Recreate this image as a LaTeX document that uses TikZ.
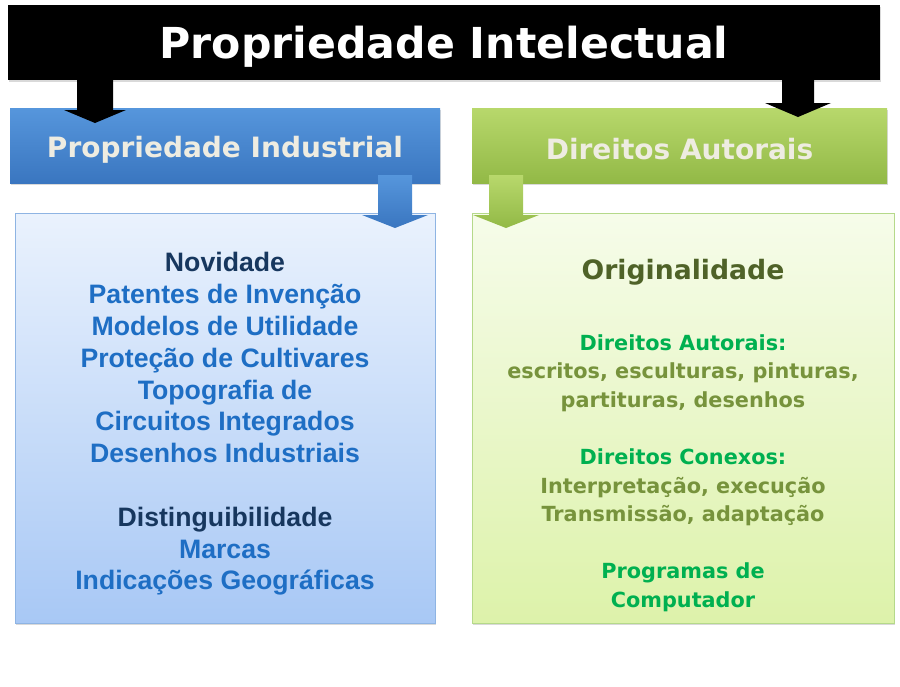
\documentclass[tikz,border=0pt]{standalone}
\usepackage{fontspec}
\setmainfont{DejaVu Sans}
\newfontfamily\arialfont{Liberation Sans}
\usetikzlibrary{positioning,shadows,calc}
\definecolor{barblue}{RGB}{86,150,220}
\definecolor{barbluedark}{RGB}{58,118,192}
\definecolor{bargreen}{RGB}{184,216,108}
\definecolor{bargreendark}{RGB}{146,185,70}
\definecolor{boxbluetop}{RGB}{234,242,253}
\definecolor{boxbluebot}{RGB}{168,200,245}
\definecolor{boxblueline}{RGB}{142,180,227}
\definecolor{boxgreentop}{RGB}{246,252,234}
\definecolor{boxgreenbot}{RGB}{221,242,170}
\definecolor{boxgreenline}{RGB}{181,217,138}
\definecolor{cream}{RGB}{238,236,225}
\definecolor{navytext}{RGB}{23,55,94}
\definecolor{bluetext}{RGB}{30,110,196}
\definecolor{olivetext}{RGB}{79,98,40}
\definecolor{leaftext}{RGB}{0,176,80}
\definecolor{mosstext}{RGB}{119,147,60}

\begin{document}
\begin{tikzpicture}[x=0.75pt,y=-0.75pt,
  softshadow/.style={drop shadow={shadow xshift=0.8pt,shadow yshift=-1.2pt,opacity=0.3}},
  bar/.style={rectangle,inner sep=0pt,minimum height=56.25pt,softshadow},
  bartext/.style={text=cream,font=\bfseries\fontsize{21pt}{25pt}\selectfont},
  panel/.style={rectangle,inner sep=0pt,minimum height=307.5pt,line width=0.7pt,softshadow}]
  \useasboundingbox (0,0) rectangle (900,686);
  % Header bar
  \node[bar,fill=black,minimum width=654pt] (intel) at (444,42.5) {};
  \node[text=white,font=\bfseries\fontsize{32pt}{38pt}\selectfont] (inteltext) at ([yshift=-3pt]intel.center) {Propriedade Intelectual};
  % Category bars
  \node[bar,minimum width=322.5pt,top color=barblue,bottom color=barbluedark] (indus) at (225,145.5) {};
  \node[bartext] (industext) at ([yshift=-3.5pt]indus.center) {Propriedade Industrial};
  \node[bar,minimum width=311.25pt,top color=bargreen,bottom color=bargreendark] (autor) at (679.5,145.5) {};
  \node[bartext] (autortext) at ([yshift=-3pt]autor.center) {Direitos Autorais};
  % Content panels
  \node[panel,minimum width=315pt,draw=boxblueline,top color=boxbluetop,bottom color=boxbluebot] (indusbox) at (225,418) {};
  \node[panel,minimum width=316.5pt,draw=boxgreenline,top color=boxgreentop,bottom color=boxgreenbot] (autorbox) at (683,418) {};
  % Block arrows
  \foreach \ax/\sw/\yt/\yh/\hw/\yp/\ca/\cb in {95/18/72/110/31/123/black/black,
      798/16/65/103/33/117/black/black,
      395/17/175/215/33/228/barblue/barbluedark,
      506/17/175/215/33/228/bargreen/bargreendark}{
    \shade[top color=\ca,bottom color=\cb] (\ax-\sw,\yt) -- (\ax+\sw,\yt) -- (\ax+\sw,\yh)
      -- (\ax+\hw,\yh) -- (\ax,\yp) -- (\ax-\hw,\yh) -- (\ax-\sw,\yh) -- cycle;
  }
  % Panel texts
  \node[align=center,font=\arialfont\bfseries\fontsize{20pt}{23.85pt}\selectfont,text=bluetext] (novidade) at ([yshift=-4.5pt]indusbox.center) {%
    \textcolor{navytext}{Novidade}\\
    Patentes de Invenção\\
    Modelos de Utilidade\\
    Proteção de Cultivares\\
    Topografia de\\
    Circuitos Integrados\\
    Desenhos Industriais\\[23.85pt]
    \textcolor{navytext}{Distinguibilidade}\\
    Marcas\\
    Indicações Geográficas};
  \node[font=\bfseries\fontsize{20pt}{24pt}\selectfont,text=olivetext] (original) at (683,272) {Originalidade};
  \node[align=center,font=\bfseries\fontsize{15.6pt}{21.45pt}\selectfont,text=mosstext] (obras) at (683,473) {%
    \textcolor{leaftext}{Direitos Autorais:}\\
    escritos, esculturas, pinturas,\\
    partituras, desenhos\\[21.45pt]
    \textcolor{leaftext}{Direitos Conexos:}\\
    Interpretação, execução\\
    Transmissão, adaptação\\[21.45pt]
    \textcolor{leaftext}{Programas de}\\
    \textcolor{leaftext}{Computador}};
\end{tikzpicture}
\end{document}
